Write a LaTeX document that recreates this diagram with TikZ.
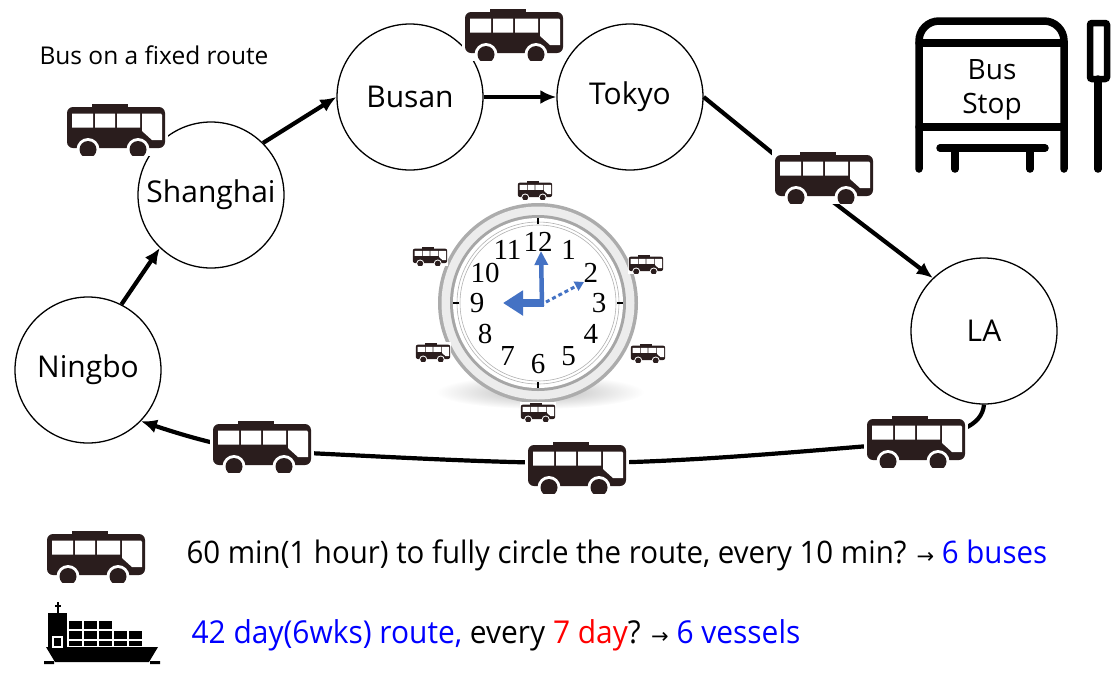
\documentclass[tikz,border=0pt]{standalone}
\usepackage{fontspec}
\setmainfont{Open Sans}
\newfontfamily\narrowfont[FakeStretch=0.95]{Open Sans}
\newfontfamily\dialfont{Liberation Serif}
\newfontfamily\symfont{DejaVu Sans}
\usepackage{xcolor}
\usetikzlibrary{arrows.meta, calc}
\definecolor{busink}{HTML}{2A1D1D}
\definecolor{handblue}{HTML}{4472C4}

\tikzset{
    bus corner/.store in=\buscorner, bus corner=6pt,
    pics/bus/.style={code={
        \fill[white] (-52,-27.5) rectangle (52,27.5);
        \begin{scope}
            \clip (-52,-27.5) rectangle (52,27.5);
            \fill[busink] (-24,-24.5) rectangle (12,-18);
            \fill[busink, rounded corners=\buscorner] (-49,-21) rectangle (49,20);
            \fill[white] (-44,-14.5) rectangle (-23,-0.5) (-21,-14.5) rectangle (-1,-0.5) (1,-14.5) rectangle (24,-0.5);
            \fill[white] (26,-14.5) -- (45,-14.5) -- (46,-13) -- (46,12) -- (36,12) -- (26,3) -- cycle;
            \fill[white] (-28,21.5) circle (11.5) (22,21.5) circle (11.5);
            \fill[busink] (-28,21.5) circle (8.5) (22,21.5) circle (8.5);
        \end{scope}
    }}
}

\begin{document}
\begin{tikzpicture}[
    x=1pt, y=-1pt,
    font=\fontsize{30}{36}\selectfont,
    port/.style={circle, draw, line width=1.3pt, fill=white, minimum size=146pt, inner sep=0pt},
    arrow/.style={-{Latex[length=16pt, width=14pt]}, line width=4.2pt},
    post/.style={line width=7.5pt, line cap=round},
    note/.style={anchor=west, font=\narrowfont\fontsize{31}{36}\selectfont}
]
    \useasboundingbox (0,0) rectangle (1116,697);

    \node[anchor=west, font=\fontsize{24.5}{29}\selectfont] (title) at (36,55) {Bus on a fixed route};

    % Ports
    \node[port] (busan) at (410,97) {Busan};
    \node[port] (tokyo) at (630,97) {Tokyo};
    \node[port] (shanghai) at (211,195) {Shanghai};
    \node[port] (ningbo) at (88,370) {Ningbo};
    \node[port] (la) at (984,331) {LA};

    \coordinate (bus1) at (116,128);
    \coordinate (bus2) at (514,33);
    \coordinate (bus3) at (824,176);
    \coordinate (bus4) at (916,440);
    \coordinate (bus5) at (577,466);
    \coordinate (bus6) at (262,445);

    % Connectors
    \draw[arrow] (ningbo.63) -- (shanghai.226);
    \draw[arrow] (shanghai.45) -- (busan.west);
    \draw[arrow] (busan.east) -- (tokyo.west);
    \draw[arrow] (tokyo.east) -- ($(bus3)+(0,19)$) -- (la.134);
    \draw[arrow] (la.south) .. controls +(-2,22) and +(40,-8) .. ($(bus4)+(0,2)$)
        .. controls +(-120,10) and +(100,0) .. ($(bus5)+(0,-3)$)
        .. controls +(-100,0) and +(80,3) .. ($(bus6)+(0,6)$)
        .. controls +(-40,-3) and +(30,10) .. (ningbo.-44);

    % Buses on the route
    \foreach \b in {bus1,bus2,bus3,bus4,bus5,bus6}
        \pic at (\b) {bus};

    % Clock
    \coordinate (clk) at (538,303);
    \shade[inner color=gray!55, outer color=white] (540,392) ellipse (104 and 17);
    \fill[gray!65] (clk) circle (100);
    \fill[gray!15] (clk) circle (96.5);
    \fill[gray!70] (clk) circle (88);
    \fill[white] (clk) circle (85);
    \draw[gray!60, line width=0.6pt] (clk) circle (81) (clk) circle (78);
    \foreach \a in {0,90,180,270}
        \draw[line width=1.6pt] ($(clk)+(\a:79)$) -- ($(clk)+(\a:85)$);
    \foreach \n in {1,...,12}
        \node[font=\dialfont\fontsize{29}{29}\selectfont] at ($(clk)+({30*\n-90}:61)$) {\n};
    \draw[handblue, line width=4.5pt, -{Triangle[length=14pt, width=13pt]}] (542,306) -- (541,251);
    \draw[handblue, line width=8pt, -{Triangle[length=20pt, width=24pt]}] (544,303) -- (503,303);
    \draw[handblue, line width=3pt, dash pattern=on 4pt off 3pt, -{Triangle[length=9pt, width=10pt]}] (546,302) -- (584,282);
    \foreach \p in {(535,190),(430,256),(646,264),(433,352),(648,353),(538,412)}
        \pic[scale=.35, bus corner=2pt] at \p {bus};

    % Bus stop
    \begin{scope}[post]
        \draw[rounded corners=20pt] (919,169) -- (919,21) -- (1064,21) -- (1064,169);
        \draw (919,43) -- (1064,43) (919,127) -- (1064,127);
        \draw (940,148) -- (1045,148) (955,148) -- (955,169) (1030,148) -- (1030,169);
        \draw[line width=6.5pt, rounded corners=2pt] (1090,23) rectangle (1107,79);
        \draw (1098,79) -- (1098,169);
    \end{scope}
    \node[align=center, font=\fontsize{28}{34}\selectfont] (stop) at (992,90) {Bus\\Stop};

    % Legend
    \pic at (96,555) {bus};
    \node[note] (busnote) at (183,555) {60 min(1 hour) to fully circle the route, every 10 min? {\symfont\fontsize{21}{21}\selectfont →} \textcolor{blue}{6 buses}};

    \fill (46,647) -- (158,647) -- (149,662) -- (55,662) -- cycle;
    \fill (44,661) rectangle (54,664) (150,661) rectangle (160,664);
    \fill (48,613) rectangle (67,647);
    \draw[white, line width=1.5pt] (53,637) rectangle (62,647);
    \draw[line width=2pt] (58,602) -- (58,613) (55,606) -- (61,606);
    \foreach \i in {0,...,4}
        \foreach \y/\h in {631/8,641/5}
            \fill (69+15*\i,\y) rectangle ++(13,\h);
    \foreach \i in {0,1,2}
        \fill (69+15*\i,621) rectangle ++(13,8);
    \node[note, font=\narrowfont\fontsize{31.5}{36}\selectfont] (shipnote) at (188,635) {\textcolor{blue}{42 day(6wks) route,} every \textcolor{red}{7 day}? {\symfont\fontsize{21}{21}\selectfont →} \textcolor{blue}{6 vessels}};
\end{tikzpicture}
\end{document}
